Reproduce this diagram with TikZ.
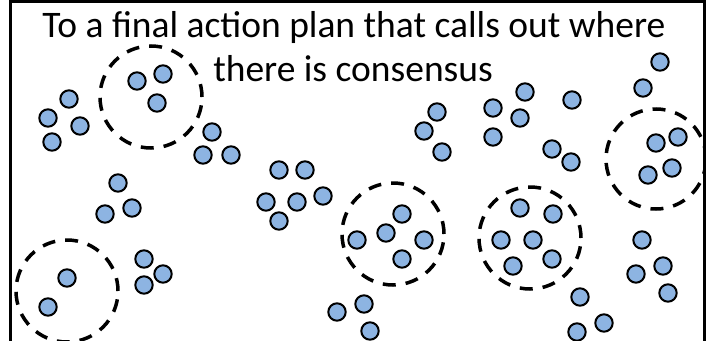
\documentclass[tikz,border=0pt]{standalone}
\usepackage{fontspec}
\setmainfont{Carlito}
\definecolor{dotblue}{HTML}{8DB4E2}
\begin{document}
\begin{tikzpicture}[x=1pt,y=-1pt,
  dot/.style={circle,draw=black,fill=dotblue,line width=2pt,minimum size=17.4pt,inner sep=0pt},
  grp/.style={circle,draw=black,line width=3.5pt,dash pattern=on 13pt off 10pt,minimum size=102pt,inner sep=0pt},
  title/.style={anchor=base,font=\fontsize{37.5}{44}\selectfont,inner sep=0pt}]
\useasboundingbox (0,0) rectangle (706,340);
\clip (0,0) rectangle (706,340);
\fill[white] (0,0) rectangle (706,340);
\draw[line width=3.5pt] (10.5,345) -- (10.5,1.5) -- (704.5,1.5) -- (704.5,345);
\node[title] (t1) at (354,37) {To a final action plan that calls out where};
\node[title] (t2) at (353,81) {there is consensus};
\foreach \x/\y [count=\i] in {
 137/81,163/74,157/103,
 69/99,48/118,80/126,52/142,
 212/132,203/155,231/155,
 437/112,424/131,442/152,
 279/170,305/170,266/202,297/202,323/196,279/221,
 660/62,643/88,
 525/92,493/108,520/118,493/137,
 572/100,
 552/149,571/162,
 656/143,678/137,648/175,672/168,
 118/183,132/208,105/214,
 144/259,163/274,144/285,
 67/278,48/307,
 402/214,386/233,357/240,424/240,402/259,
 337/312,364/304,370/331,
 520/208,553/214,501/240,533/240,513/266,552/259,
 642/240,663/266,636/274,668/293,
 580/297,604/323,577/332}
 \node[dot] (d\i) at (\x,\y) {};
\node[grp] (g1) at (151,97) {};
\node[grp,minimum size=100pt] (g2) at (656,159) {};
\node[grp] (g3) at (67,291) {};
\node[grp] (g4) at (393,234) {};
\node[grp] (g5) at (530,238) {};
\end{tikzpicture}
\end{document}
